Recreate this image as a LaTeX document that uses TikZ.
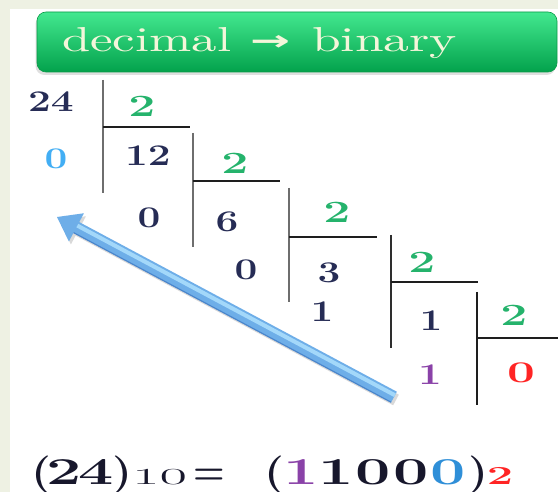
\documentclass[tikz,border=0pt]{standalone}
\usepackage{graphicx}
\usepackage{fontspec}
\newfontfamily\arrowfont{DejaVu Sans}
\usetikzlibrary{calc,shadows}
\definecolor{bgbeige}{HTML}{EEF1E3}
\definecolor{digit}{HTML}{262C55}
\definecolor{fdark}{HTML}{17172C}
\definecolor{grn}{HTML}{25B36C}
\definecolor{lblue}{HTML}{42AEF4}
\definecolor{fblue}{HTML}{2F8FD8}
\definecolor{purp}{HTML}{8A42A8}
\definecolor{redd}{HTML}{FF2424}
\definecolor{vgray}{HTML}{6E6E6E}
\definecolor{vdark}{HTML}{2E2E2E}
\definecolor{hline}{HTML}{1E1E1E}
\definecolor{arrowmid}{HTML}{6EAEE8}
\definecolor{arrowlight}{HTML}{A3D8FA}
\definecolor{arrowdark}{HTML}{4A86CC}
\definecolor{cream}{HTML}{F4F6DA}
\definecolor{bantop}{HTML}{43E88F}
\definecolor{banmid}{HTML}{0DB456}
\definecolor{banbot}{HTML}{03A24C}
\definecolor{banedge}{HTML}{0A9A48}
\newcommand\xs[2]{\scalebox{#1}[1]{#2}}
\begin{document}
\begin{tikzpicture}[x=1pt,y=-1pt,
  dv/.style={inner sep=0pt, font=\fontsize{30}{30}\selectfont\bfseries, text=digit},
  gv/.style={inner sep=0pt, font=\fontsize{31}{31}\selectfont\bfseries, text=grn},
  fm/.style={inner sep=0pt, anchor=base, font=\fontsize{38}{38}\selectfont\bfseries, text=fdark},
  ttl/.style={anchor=base west, inner sep=0pt, text=cream},
  vbar/.style={vgray, line width=2.6pt},
  hbar/.style={hline, line width=1.6pt},
  banner/.style={draw=banedge, line width=0.6pt, rounded corners=9pt,
    top color=bantop, middle color=banmid, bottom color=banbot,
    drop shadow={shadow xshift=-1.5pt, shadow yshift=-3pt, opacity=.25},
    inner sep=0pt, minimum width=520pt, minimum height=60pt}]
\useasboundingbox (0,0) rectangle (558,492);
\fill[bgbeige] (0,0) rectangle (558,492);
\fill[white] (10,9) rectangle (558,492);

% banner
\node[banner] (ban) at (297,42) {};
\node[ttl] (t1) at (62,52) {\resizebox{169pt}{24pt}{decimal}};
\node[inner sep=0pt, text=cream] (t2) at (270,43) {\resizebox{40pt}{15pt}{\arrowfont\bfseries →}};
\node[ttl] (t3) at (312,52) {\resizebox{145pt}{24pt}{binary}};

% division bars
\coordinate (v1t) at (103,80);  \coordinate (v1b) at (103,193);
\coordinate (h1l) at (103,127); \coordinate (h1r) at (190,127);
\coordinate (v2t) at (193,133); \coordinate (v2b) at (193,247);
\coordinate (h2l) at (193,181); \coordinate (h2r) at (280,181);
\coordinate (v3t) at (289,188); \coordinate (v3b) at (289,302);
\coordinate (h3l) at (289,237); \coordinate (h3r) at (377,237);
\coordinate (v4t) at (391,235); \coordinate (v4b) at (391,348);
\coordinate (h4l) at (391,282); \coordinate (h4r) at (478,282);
\coordinate (v5t) at (477,292); \coordinate (v5b) at (477,405);
\coordinate (h5l) at (477,338); \coordinate (h5r) at (558,338);
\draw[vbar] (v1t) -- (v1b);
\draw[vbar] (v2t) -- (v2b);
\draw[vbar] (v3t) -- (v3b);
\draw[vbar, vdark] (v4t) -- (v4b);
\draw[vbar, hline] (v5t) -- (v5b);
\draw[hbar] (h1l) -- (h1r);
\draw[hbar] (h2l) -- (h2r);
\draw[hbar] (h3l) -- (h3r);
\draw[hbar] (h4l) -- (h4r);
\draw[hbar] (h5l) -- (h5r);

% digits
\node[dv] (n24) at (51,102) {\xs{1.35}{24}};
\node[gv] (d1) at (142,106) {\xs{1.55}{2}};
\node[dv, text=lblue] (r1) at (56,159) {\xs{1.35}{0}};
\node[dv] (n12) at (148,156) {\xs{1.35}{12}};
\node[gv] (d2) at (235,163) {\xs{1.55}{2}};
\node[dv] (r2) at (149,218) {\xs{1.35}{0}};
\node[dv] (n6) at (227,222) {\xs{1.35}{6}};
\node[gv] (d3) at (337,212) {\xs{1.55}{2}};
\node[dv] (r3) at (246,270) {\xs{1.35}{0}};
\node[dv] (n3) at (329,273) {\xs{1.35}{3}};
\node[dv] (r4) at (322,312) {\xs{1.35}{1}};
\node[gv] (d4) at (422,262) {\xs{1.55}{2}};
\node[dv] (n1) at (431,321) {\xs{1.35}{1}};
\node[dv, text=purp] (r5) at (430,375) {\xs{1.4}{1}};
\node[gv] (d5) at (514,315) {\xs{1.55}{2}};
\node[dv, text=redd] (n0) at (521,373) {\xs{1.65}{0}};

% big arrow
\coordinate (tip) at (57,217);
\coordinate (tail) at (394,397);
\coordinate (hb) at ($(tip)!22pt!(tail)$);
\coordinate (hu) at ($(hb)!16pt!90:(tail)$);
\coordinate (hl) at ($(hb)!16pt!-90:(tail)$);
\coordinate (su) at ($(hb)!6pt!90:(tail)$);
\coordinate (sl) at ($(hb)!6pt!-90:(tail)$);
\coordinate (tu) at ($(tail)!6pt!-90:(tip)$);
\coordinate (tl) at ($(tail)!6pt!90:(tip)$);
\coordinate (mu1) at ($(hb)!2pt!90:(tail)$);
\coordinate (mu2) at ($(tail)!2pt!-90:(tip)$);
\begin{scope}[transform canvas={shift={(2,3)}}]
\fill[black, opacity=.15] (tip) -- (hu) -- (su) -- (tu) -- (tl) -- (sl) -- (hl) -- cycle;
\end{scope}
\fill[arrowmid] (tip) -- (hu) -- (su) -- (tu) -- (tl) -- (sl) -- (hl) -- cycle;
\draw[arrowlight, line width=4pt] (mu1) -- (mu2);
\draw[arrowdark, line width=1.2pt] (sl) -- (tl);

% formula
\node[fm] (fp1) at (41.5,484) {\xs{1.2}{(}};
\node[fm] (f2) at (64,484) {\xs{1.65}{2}};
\node[fm] (f4) at (96,484) {\xs{1.65}{4}};
\node[fm] (fp2) at (122,484) {\xs{1.2}{)}};
\node[fm, font=\fontsize{23}{23}\selectfont] (f10) at (159.5,484) {\xs{2.6}{10}};
\node[fm] (feq) at (209,484) {\scalebox{1.45}[1.6]{\boldmath$=$}};
\node[fm] (fp3) at (274,484) {\xs{1.2}{(}};
\node[fm, text=purp] (b1) at (301.5,484) {\xs{1.65}{1}};
\node[fm] (b2) at (336.5,484) {\xs{1.65}{1}};
\node[fm] (b3) at (373.5,484) {\xs{1.65}{0}};
\node[fm] (b4) at (411,484) {\xs{1.65}{0}};
\node[fm, text=fblue] (b5) at (448.5,484) {\xs{1.65}{0}};
\node[fm] (fp4) at (478.5,484) {\xs{1.2}{)}};
\node[fm, font=\fontsize{26}{26}\selectfont\bfseries, text=redd] (fb) at (500,484) {\xs{1.8}{2}};
\end{tikzpicture}
\end{document}
